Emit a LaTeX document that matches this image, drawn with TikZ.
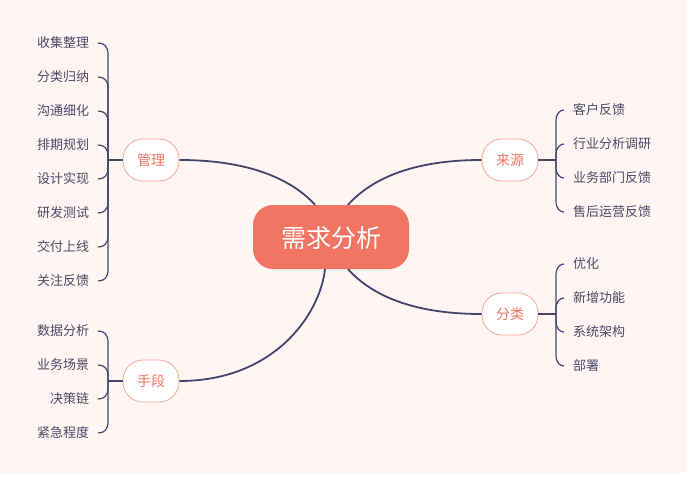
\documentclass[tikz,border=0pt]{standalone}
\usepackage{fontspec}
\setmainfont{Noto Sans CJK SC}
\usetikzlibrary{positioning}
\definecolor{bgpink}{HTML}{FFF5F3}
\definecolor{coral}{HTML}{F27563}
\definecolor{coralline}{HTML}{F5A898}
\definecolor{navy}{HTML}{45466F}
\definecolor{leafgray}{HTML}{4B4B68}

\begin{document}
\begin{tikzpicture}[
		x=1pt, y=-1pt,
		root/.style={
			fill=coral,
			text=white,
			rounded corners=20pt,
			minimum width=156pt,
			minimum height=64pt,
			text depth=2pt,
			font=\fontsize{25}{28}\selectfont
		},
		branch/.style={
			draw=coralline,
			fill=white,
			text=coral,
			line width=0.8pt,
			rounded corners=20pt,
			minimum width=56pt,
			minimum height=42pt,
			inner sep=0pt,
			font=\fontsize{14}{16}\selectfont
		},
		leafl/.style={
			anchor=east,
			text=leafgray,
			inner xsep=4.5pt,
			outer xsep=4.5pt,
			inner ysep=0pt,
			font=\fontsize{13}{15}\selectfont
		},
		leafr/.style={leafl, anchor=west},
		link/.style={draw=navy, line width=1.8pt},
		brace/.style={draw=navy, line width=1.2pt}
		]
		
		\fill[white] (0,0) rectangle (692,478);
		\fill[bgpink] (0,0) rectangle (687,473);
		
		\node[root] (root) at (331,237) {\raisebox{-2.5pt}{需求分析}};
		
		\node[branch] (guanli) at (151,160) {管理};
		\node[branch] (laiyuan) at (510,160) {来源};
		\node[branch] (fenlei) at (510,314) {分类};
		\node[branch] (shouduan) at (151,381) {手段};
		
		\draw[link] (guanli.east) .. controls +(76,0) and +(-20,-22) .. ([xshift=-16pt]root.north);
		\draw[link] (laiyuan.west) .. controls +(-76,0) and +(20,-22) .. ([xshift=17pt]root.north);
		\draw[link] (fenlei.west) .. controls +(-76,0) and +(20,22) .. ([xshift=17pt]root.south);
		\draw[link] (shouduan.east) .. controls +(95,0) and +(-5,45) .. ([xshift=-6pt]root.south);
		
		% left side
		\coordinate (gj) at (108,160);
		\draw[brace] (guanli.west) -- (gj);
		\foreach \t [count=\i] in {收集整理,分类归纳,沟通细化,排期规划,设计实现,研发测试,交付上线,关注反馈} {
			\pgfmathsetmacro\y{43+34*(\i-1)}
			\pgfmathsetmacro\s{\y<160 ? 11 : -11}
			\node[leafl] (gl\i) at (98,\y) {\t};
			\draw[brace] (gj) -- (108,\y+\s) .. controls (108,\y+0.3*\s) and (104,\y) .. (gl\i.east);
		}
		
		\coordinate (sj) at (108,381);
		\draw[brace] (shouduan.west) -- (sj);
		\foreach \t [count=\i] in {数据分析,业务场景,决策链,紧急程度} {
			\pgfmathsetmacro\y{331+34*(\i-1)}
			\pgfmathsetmacro\s{\y<381 ? 11 : -11}
			\node[leafl] (sl\i) at (98,\y) {\t};
			\draw[brace] (sj) -- (108,\y+\s) .. controls (108,\y+0.3*\s) and (104,\y) .. (sl\i.east);
		}
		
		% right side
		\coordinate (lj) at (556,160);
		\draw[brace] (laiyuan.east) -- (lj);
		\foreach \t [count=\i] in {客户反馈,行业分析调研,业务部门反馈,售后运营反馈} {
			\pgfmathsetmacro\y{110+34*(\i-1)}
			\pgfmathsetmacro\s{\y<160 ? 11 : -11}
			\node[leafr] (ll\i) at (564,\y) {\t};
			\draw[brace] (lj) -- (556,\y+\s) .. controls (556,\y+0.3*\s) and (560,\y) .. (ll\i.west);
		}
		
		\coordinate (fj) at (556,314);
		\draw[brace] (fenlei.east) -- (fj);
		\foreach \t [count=\i] in {优化,新增功能,系统架构,部署} {
			\pgfmathsetmacro\y{264+34*(\i-1)}
			\pgfmathsetmacro\s{\y<314 ? 11 : -11}
			\node[leafr] (fl\i) at (564,\y) {\t};
			\draw[brace] (fj) -- (556,\y+\s) .. controls (556,\y+0.3*\s) and (560,\y) .. (fl\i.west);
		}
		
	\end{tikzpicture}
\end{document}
